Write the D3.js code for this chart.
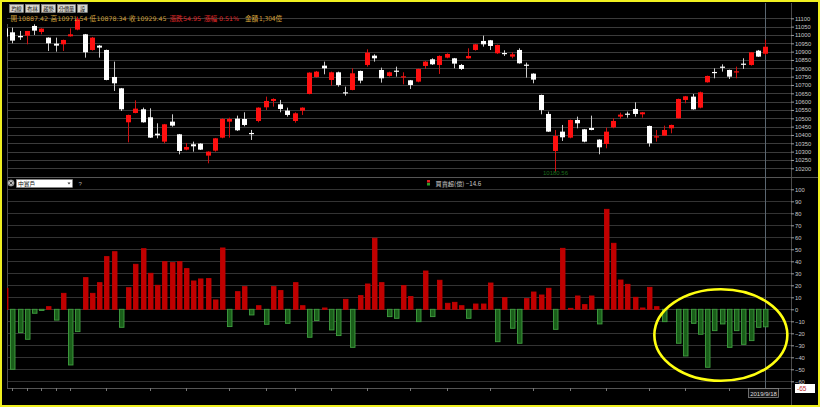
<!DOCTYPE html>
<html><head><meta charset="utf-8">
<script src="https://cdn.jsdelivr.net/npm/d3@7/dist/d3.min.js"></script>
<style>html,body{margin:0;padding:0;background:#000;}svg{display:block;}</style>
</head><body>
<svg id="c" width="820" height="407"></svg>
<script>
// ---------- DATA ----------
const dayIndex = d3.range(106);
const openP  = [11040,11016,10994,10996,11054,11018,10984,10948,10944,10992,11032,11004,10910,10936,10910,10748,10680,10476,10532,10554,10506,10408,10360,10480,10404,10312,10344,10348,10276,10306,10384,10480,10498,10496,10412,10484,10566,10604,10584,10546,10484,10546,10646,10748,10816,10730,10776,10656,10670,10784,10820,10876,10790,10754,10786,10748,10728,10720,10814,10854,10820,10864,10860,10820,10860,10910,10964,10968,10890,10892,10870,10910,10822,10768,10640,10526,10304,10420,10384,10490,10434,10442,10372,10346,10446,10510,10528,10556,10524,10454,10388,10396,10440,10500,10610,10630,10564,10716,10778,10810,10790,10778,10828,10820,10906,10887.42];
const highP  = [11050,11044,11024,11024,11064,11040,10986,10984,10972,11040,11110,11006,10988,10940,10912,10840,10682,10522,10608,10564,10560,10470,10466,10524,10406,10352,10360,10350,10302,10382,10500,10504,10516,10536,10430,10566,10630,10620,10610,10564,10536,10566,10776,10784,10840,10780,10780,10690,10800,10786,10914,10884,10804,10780,10810,10776,10730,10798,10844,10860,10878,10890,10862,10826,10920,10946,10996,10970,10942,10908,10896,10920,10834,10770,10642,10540,10430,10460,10492,10510,10436,10516,10374,10444,10500,10534,10540,10596,10538,10456,10430,10456,10462,10618,10634,10646,10660,10756,10800,10824,10792,10810,10860,10898,10910,10971.54];
const lowP   = [10985,10950,10970,10944,11000,11004,10904,10900,10904,10990,11028,10864,10906,10864,10728,10664,10544,10356,10530,10474,10382,10380,10350,10450,10284,10308,10300,10310,10230,10300,10380,10384,10424,10452,10370,10476,10550,10570,10536,10510,10474,10520,10644,10744,10764,10696,10690,10636,10668,10710,10810,10840,10714,10750,10750,10704,10676,10716,10796,10820,10766,10860,10800,10790,10858,10906,10930,10910,10886,10874,10860,10828,10744,10710,10524,10418,10180,10364,10380,10440,10356,10428,10284,10320,10440,10496,10504,10510,10504,10330,10360,10396,10410,10498,10590,10552,10560,10714,10740,10780,10736,10740,10796,10816,10868,10878.34];
const closeP = [10990,10966,10986,11024,11026,11038,10950,10936,10970,11004,11094,10896,10984,10924,10730,10710,10554,10520,10558,10476,10384,10398,10464,10456,10304,10328,10332,10312,10300,10380,10496,10496,10428,10460,10408,10564,10604,10616,10556,10520,10530,10564,10774,10780,10800,10776,10700,10652,10770,10726,10894,10860,10740,10776,10782,10752,10700,10796,10840,10824,10874,10886,10828,10796,10874,10944,10944,10934,10940,10888,10884,10830,10818,10732,10550,10420,10394,10386,10490,10470,10360,10430,10326,10420,10484,10522,10524,10526,10536,10350,10392,10430,10460,10616,10632,10554,10656,10754,10774,10806,10750,10782,10824,10896,10870,10929.45];
const netFlow = [17.5,-50,-19.4,-25,-3.3,-1,2.2,-9,13.3,-46.4,-18.6,26.4,13.3,22.2,43.9,48,-15,18,37.5,50.5,30,20,39.7,38.9,39.7,33.9,23.6,25.3,25.6,7.8,51.1,-14.4,14.7,18.9,-4.7,3,-12.5,18.9,15.6,-11.7,22.2,3,-23.3,-9.4,1.1,-17.2,-21.9,8.3,-31.7,11.4,21.1,59.2,22.2,-6.1,-7.5,19.7,10.6,-10.3,31.9,-6.1,24.2,5,5.8,3,-7.5,4.4,4.4,21.9,-27,9.7,-15.8,-28.3,8.9,14.4,11.9,17.5,-16.7,50.8,0.8,11.1,3.9,11.1,-12.2,83.3,55,24.4,20.8,10,1.1,18.3,2.2,-10.3,0,-28.3,-38.9,-11.7,-20.8,-48.3,-17.8,-12.2,-31.7,-17.8,-29.2,-26.1,-15,-14.6];
const priceTicks = [11100,11050,11000,10950,10900,10850,10800,10750,10700,10650,10600,10550,10500,10450,10400,10350,10300,10250,10200];
const flowTicks = [100,90,80,70,60,50,40,30,20,10,0,-10,-20,-30,-40,-50,-60];
const dateTickIdx = [1,3,5,7,9,14,20,25,31,36,40,45,50,56,61,67,73,78,83,89,94,100];
const toolButtons = ["均線","布林","趨勢","分價量","設"];
const lastDate = "2019/9/18";
const indicatorName = "中實戶";
const legendLabel = "買賣超(億)";
const lowLabel = "10180.56";
const cursorValue = "-65";

// ---------- SCALES ----------
const svg = d3.select("#c");
const x = d3.scaleLinear().domain([0,105]).range([5.05,765.0]);
const yP = d3.scaleLinear().domain([10200,11100]).range([168.3,18.3]);
const yF = d3.scaleLinear().domain([-60,100]).range([381.3,189.3]);
const L = 7, R = 791;
const cjk = "'Noto Sans CJK TC','Noto Sans CJK SC',sans-serif";
const lat = "'Liberation Sans',Arial,sans-serif";
const dv = "'DejaVu Sans',sans-serif";

svg.append("rect").attr("width",820).attr("height",407).attr("fill","#000");

const defs = svg.append("defs");
defs.append("clipPath").attr("id","cTop").append("rect").attr("x",L).attr("y",14).attr("width",R-L).attr("height",163);
defs.append("clipPath").attr("id","cBot").append("rect").attr("x",L).attr("y",178).attr("width",R-L).attr("height",210);

// gridlines
svg.append("g").selectAll("line").data(priceTicks).join("line")
  .attr("x1",L).attr("x2",R).attr("y1",d=>Math.round(yP(d))+0.5).attr("y2",d=>Math.round(yP(d))+0.5)
  .attr("stroke","#3b3b3b").attr("stroke-width",1);
svg.append("g").selectAll("line").data(flowTicks).join("line")
  .attr("x1",L).attr("x2",R).attr("y1",d=>Math.round(yF(d))+0.5).attr("y2",d=>Math.round(yF(d))+0.5)
  .attr("stroke","#333").attr("stroke-width",1);

// frame lines
svg.append("line").attr("x1",L+0.5).attr("x2",L+0.5).attr("y1",24).attr("y2",388).attr("stroke","#4a4a4a");
svg.append("line").attr("x1",R+0.5).attr("x2",R+0.5).attr("y1",3).attr("y2",405).attr("stroke","#4a4a4a");
svg.append("line").attr("x1",L).attr("x2",818).attr("y1",177.5).attr("y2",177.5).attr("stroke","#555");
svg.append("line").attr("x1",L).attr("x2",R).attr("y1",388.5).attr("y2",388.5).attr("stroke","#555");

// crosshair
svg.append("line").attr("x1",765.5).attr("x2",765.5).attr("y1",3).attr("y2",388).attr("stroke","#5a6670").attr("stroke-width",1);

// ---------- CANDLES ----------
const candles = dayIndex.map(i=>({i,o:openP[i],h:highP[i],l:lowP[i],c:closeP[i]}));
const gc = svg.append("g").attr("clip-path","url(#cTop)");
const col = d=> d.c>d.o ? "#ff1010" : "#ffffff";
gc.selectAll("line.w").data(candles).join("line").attr("class","w")
  .attr("x1",d=>Math.round(x(d.i))+0.5).attr("x2",d=>Math.round(x(d.i))+0.5)
  .attr("y1",d=>yP(d.h)).attr("y2",d=>yP(d.l))
  .attr("stroke",d=> d.c>d.o ? "#d01010" : "#cccccc").attr("stroke-width",1);
gc.selectAll("rect.b").data(candles).join("rect").attr("class","b")
  .attr("x",d=>Math.round(x(d.i))-2).attr("width",5)
  .attr("y",d=>yP(Math.max(d.o,d.c)))
  .attr("height",d=>Math.max(1.2,yP(Math.min(d.o,d.c))-yP(Math.max(d.o,d.c))))
  .attr("fill",col);

// low label
svg.append("text").attr("x",543).attr("y",175).attr("font-family",lat).attr("font-size",6)
  .attr("fill","#1d6b1d").text(lowLabel);

// ---------- FLOW BARS ----------
const gb = svg.append("g").attr("clip-path","url(#cBot)");
const flows = dayIndex.map(i=>({i,v:netFlow[i]}));
gb.selectAll("rect").data(flows.filter(d=>d.v!==0)).join("rect")
  .attr("x",d=>Math.round(x(d.i))-2+0.5).attr("width",4.5)
  .attr("y",d=>Math.min(yF(d.v),yF(0)))
  .attr("height",d=>Math.abs(yF(d.v)-yF(0)))
  .attr("fill",d=>d.v>0?"#c00000":"#1a5e1a")
  .attr("stroke",d=>d.v>0?"#c00000":"#3f9f3f").attr("stroke-width",0.9);

// x ticks at bottom
svg.append("g").selectAll("line").data(dateTickIdx).join("line")
  .attr("x1",d=>Math.round(x(d))+0.5).attr("x2",d=>Math.round(x(d))+0.5)
  .attr("y1",388).attr("y2",391).attr("stroke","#777");

// ---------- RIGHT AXES ----------
const axTop = d3.axisRight(yP).tickValues(priceTicks).tickSize(3).tickFormat(d3.format("d"));
const gAT = svg.append("g").attr("transform",`translate(${R},0)`).call(axTop);
const axBot = d3.axisRight(yF).tickValues(flowTicks).tickSize(3).tickFormat(d3.format("d"));
const gAB = svg.append("g").attr("transform",`translate(${R},0)`).call(axBot);
[gAT,gAB].forEach(g=>{
  g.select(".domain").remove();
  g.selectAll(".tick line").attr("stroke","#999");
  g.selectAll(".tick text").attr("x",4).attr("fill","#c8c8c8").attr("font-family",lat).attr("font-size",5.8);
});

// ---------- TOOLBAR & INFO ----------
const btnX = [9,25,41,57,77], btnW=[14,14,14,18,10];
const gBtn = svg.append("g");
toolButtons.forEach((t,k)=>{
  gBtn.append("rect").attr("x",btnX[k]+0.5).attr("y",4.5).attr("width",btnW[k]).attr("height",8)
    .attr("fill","#d8d5cf").attr("stroke","#8a8a8a").attr("stroke-width",0.6);
  gBtn.append("text").attr("x",btnX[k]+0.5+btnW[k]/2).attr("y",11).attr("text-anchor","middle")
    .attr("font-family",cjk).attr("font-size",5.2).attr("fill","#111").text(t);
});
const gold="#d4a23a", redT="#e02828";
const info = [
  ["開",10.5,gold,cjk],["10887.42",18,gold,dv],
  ["高",50.5,gold,cjk],["10971.54",57.5,gold,dv],
  ["低",89.5,gold,cjk],["10878.34",96.5,gold,dv],
  ["收",129,gold,cjk],["10929.45",136.5,gold,dv],
  ["漲跌",169.5,redT,cjk],["54.95",183,redT,dv],
  ["漲幅",204,redT,cjk],["0.51%",219,redT,dv],
  ["金額",245,gold,cjk],["1,304億",259,gold,cjk]
];
info.forEach(([t,xx,c,f])=>{
  svg.append("text").attr("x",xx).attr("y",20.5).attr("font-family",f)
    .attr("font-size",f===dv?6.3:6.6).attr("fill",c).text(t);
});

// ---------- LOWER PANEL HEADER ----------
svg.append("circle").attr("cx",11).attr("cy",183).attr("r",3.2).attr("fill","#bbb").attr("stroke","#666").attr("stroke-width",0.5);
svg.append("path").attr("d","M9.5,181.5L12.5,184.5M12.5,181.5L9.5,184.5").attr("stroke","#222").attr("stroke-width",0.8);
svg.append("rect").attr("x",16.5).attr("y",179.5).attr("width",56).attr("height",8).attr("fill","#fff").attr("stroke","#888").attr("stroke-width",0.5);
svg.append("text").attr("x",18).attr("y",186).attr("font-family",cjk).attr("font-size",5.8).attr("fill","#111").text(indicatorName);
svg.append("path").attr("d","M67.5,182.5L70.5,182.5L69,184.5Z").attr("fill","#333");
svg.append("text").attr("x",78.5).attr("y",186).attr("font-family",lat).attr("font-size",6).attr("fill","#aaa").text("?");
svg.append("rect").attr("x",427).attr("y",180).attr("width",3).attr("height",2.5).attr("fill","#e02020");
svg.append("rect").attr("x",427).attr("y",183).attr("width",3).attr("height",2.5).attr("fill","#2aa02a");
svg.append("text").attr("x",435.5).attr("y",185.8).attr("font-family",cjk).attr("font-size",6.2).attr("fill","#c8c8c8")
  .text(legendLabel+" "+d3.format(".1f")(netFlow[105]));

// ---------- ELLIPSE HIGHLIGHT ----------
svg.append("ellipse").attr("cx",x(98.9)).attr("cy",yF(-21.4)).attr("rx",66.5).attr("ry",45.8)
  .attr("fill","none").attr("stroke","#ffff10").attr("stroke-width",2.6);

// ---------- CURSOR LABELS ----------
svg.append("rect").attr("x",748.5).attr("y",388.5).attr("width",30).attr("height",9).attr("fill","#111").attr("stroke","#999").attr("stroke-width",0.7);
svg.append("text").attr("x",763.5).attr("y",395.5).attr("text-anchor","middle").attr("font-family",lat).attr("font-size",6).attr("fill","#ddd").text(lastDate);
svg.append("rect").attr("x",795).attr("y",384).attr("width",20).attr("height",9).attr("fill","#fff");
svg.append("text").attr("x",797).attr("y",391).attr("font-family",lat).attr("font-size",6.5).attr("fill","#c03030").text(cursorValue);

// outer yellow border
svg.append("rect").attr("x",1).attr("y",1).attr("width",818).attr("height",405)
  .attr("fill","none").attr("stroke","#f0f020").attr("stroke-width",2);
</script>
</body></html>
